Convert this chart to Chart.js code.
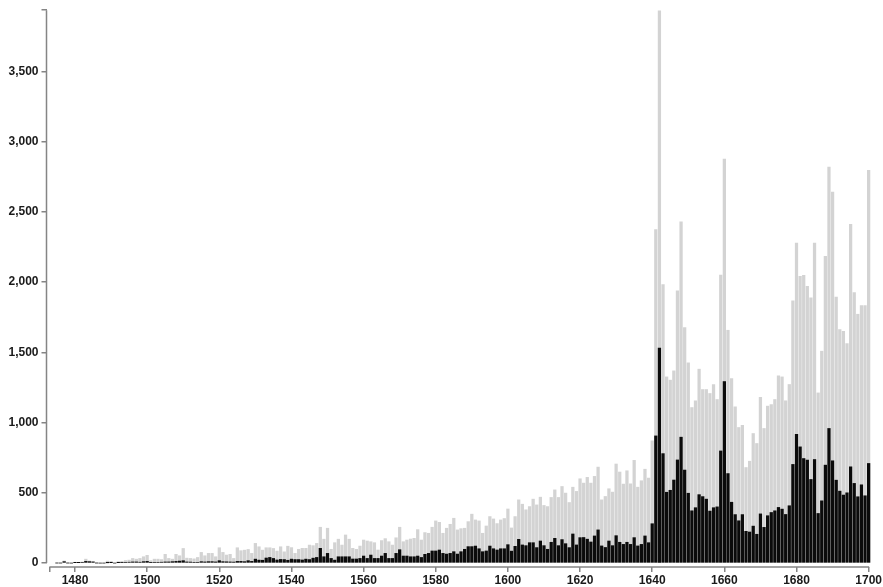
<!DOCTYPE html>
<html>
<head>
<meta charset="utf-8">
<script src="https://cdn.jsdelivr.net/npm/chart.js@4.4.0/dist/chart.umd.min.js"></script>
<style>
  html, body { margin: 0; padding: 0; background: #fff; }
  #wrap { width: 883px; height: 587px; }
</style>
</head>
<body>
<div id="wrap"><canvas id="grafico"></canvas></div>
<script>
// primer año con datos
const anioInicial = 1475;

// total de títulos por año (gris)
const totales = [
  3, 5, 15, 3, 0, 6, 5, 8, 28, 15, 12, 3, 0, 0, 14, 12, 0, 10, 12, 18, 21, 33, 28, 33, 45,
  55, 17, 28, 28, 25, 62, 33, 28, 62, 52, 104, 35, 33, 30, 40, 76, 52, 69, 69, 45,
  109, 76, 57, 62, 33, 109, 88, 92, 97, 69, 140, 116, 92, 109, 109, 104, 85, 116, 80, 120,
  110, 69, 98, 105, 105, 128, 124, 140, 255, 170, 248, 98, 145, 170, 128, 200, 170, 105, 98, 121,
  164, 157, 152, 145, 93, 160, 174, 152, 128, 180, 255, 152, 164, 171, 176, 238, 164, 217, 212, 255,
  300, 290, 212, 248, 276, 319, 236, 245, 248, 295, 348, 307, 300, 212, 264, 331, 314, 281, 307, 317,
  385, 250, 331, 450, 419, 379, 402, 455, 414, 469, 410, 402, 467, 521, 467, 545, 498, 431, 540, 510,
  600, 569, 610, 569, 617, 683, 450, 474, 529, 505, 705, 648, 562, 657, 564, 731, 540, 586, 668, 605,
  870, 2373, 3930, 1982, 1325, 1302, 1368, 1937, 2428, 1676, 1425, 1107, 1155, 1380, 1235, 1235, 1207, 1271, 1164, 2050,
  2875, 1657, 1313, 1112, 965, 981, 680, 725, 922, 851, 1180, 958, 1117, 1128, 1164, 1332, 1325, 1155, 1271, 1866,
  2278, 2041, 2048, 1970, 1887, 2278, 1211, 1508, 2183, 2819, 2641, 1894, 1662, 1650, 1562, 2411, 1925, 1771, 1833, 1833,
  2795
];

// subconjunto por año (negro)
const subconjunto = [
  0, 0, 10, 0, 0, 3, 3, 5, 12, 10, 8, 0, 0, 0, 2, 3, 0, 3, 4, 5, 6, 8, 8, 6, 10,
  12, 4, 5, 5, 6, 8, 8, 10, 12, 14, 17, 8, 7, 5, 5, 10, 8, 10, 10, 8,
  17, 10, 9, 8, 7, 12, 12, 10, 17, 12, 28, 21, 20, 36, 40, 33, 22, 26, 25, 20,
  28, 25, 25, 22, 28, 25, 35, 40, 105, 45, 69, 33, 21, 45, 45, 45, 45, 29, 29, 33,
  50, 33, 57, 33, 33, 50, 69, 33, 33, 69, 95, 50, 50, 45, 45, 50, 40, 62, 69, 86,
  86, 93, 69, 64, 69, 81, 64, 81, 98, 117, 117, 121, 102, 81, 86, 121, 102, 93, 102, 102,
  131, 85, 119, 169, 129, 124, 145, 145, 110, 157, 124, 98, 148, 176, 124, 167, 138, 110, 207, 129,
  181, 182, 170, 150, 193, 236, 122, 111, 157, 124, 195, 148, 133, 148, 133, 181, 122, 133, 193, 145,
  280, 905, 1530, 779, 504, 518, 591, 734, 896, 662, 497, 372, 394, 487, 473, 455, 370, 394, 400, 798,
  1292, 637, 433, 345, 301, 345, 226, 221, 263, 205, 350, 254, 337, 360, 372, 396, 384, 346, 408, 702,
  917, 827, 744, 733, 595, 737, 353, 443, 697, 958, 728, 590, 512, 484, 500, 685, 567, 472, 557, 479,
  709
];

// marcas de los ejes
const ticksX = [1480, 1500, 1520, 1540, 1560, 1580, 1600, 1620, 1640, 1660, 1680, 1700];
const ticksY = [0, 500, 1000, 1500, 2000, 2500, 3000, 3500];

const xMin = 1472.1, xInicioEje = 1472.9, xMax = 1700;
const yMin = -28, yMax = 3935;
const colorEje = '#858585';

const serieTotal = totales.map((v, i) => ({ x: anioInicial + i, y: v }));
const serieSub = subconjunto.map((v, i) => ({ x: anioInicial + i, y: v }));

// ejes al estilo Stata: separados en la esquina
const ejesPlugin = {
  id: 'ejes',
  afterDraw(chart) {
    const { ctx, chartArea, scales } = chart;
    ctx.save();
    ctx.strokeStyle = colorEje;
    ctx.lineWidth = 1.5;
    ctx.beginPath();
    ctx.moveTo(chartArea.left, scales.y.getPixelForValue(0));
    ctx.lineTo(chartArea.left, scales.y.getPixelForValue(yMax));
    ctx.moveTo(scales.x.getPixelForValue(xInicioEje), chartArea.bottom);
    ctx.lineTo(scales.x.getPixelForValue(xMax) + 0.5, chartArea.bottom);
    ctx.stroke();
    ctx.restore();
  }
};

const fuente = { family: 'Liberation Sans, Arial, sans-serif', size: 12, weight: 'bold' };

new Chart(document.getElementById('grafico'), {
  type: 'bar',
  data: {
    datasets: [
      {
        label: 'Subconjunto',
        data: serieSub,
        backgroundColor: '#0b0b0b',
        grouped: false,
        barThickness: 2.6,
        order: 1,
        clip: false
      },
      {
        label: 'Total',
        data: serieTotal,
        backgroundColor: '#d3d3d3',
        grouped: false,
        barThickness: 2.6,
        order: 2,
        clip: false
      }
    ]
  },
  options: {
    responsive: true,
    maintainAspectRatio: false,
    animation: false,
    layout: { padding: { left: 0, top: 10, right: 14, bottom: 0 } },
    plugins: { legend: { display: false }, tooltip: { enabled: false } },
    scales: {
      x: {
        type: 'linear',
        offset: false,
        min: xMin,
        max: xMax,
        afterBuildTicks: (s) => { s.ticks = [xInicioEje].concat(ticksX).map(v => ({ value: v })); },
        afterFit: (s) => { s.height = 20; },
        border: { display: false },
        grid: { offset: false, drawOnChartArea: false, drawTicks: true, tickLength: 5, color: colorEje, lineWidth: 1.5 },
        ticks: {
          autoSkip: false,
          maxRotation: 0,
          padding: 1,
          color: '#1a1a1a',
          font: fuente,
          callback: (v) => (v === xInicioEje ? '' : String(v))
        }
      },
      y: {
        min: yMin,
        max: yMax,
        afterBuildTicks: (s) => { s.ticks = ticksY.concat([yMax]).map(v => ({ value: v })); },
        afterFit: (s) => { s.width = 46.5; },
        border: { display: false },
        grid: { drawOnChartArea: false, drawTicks: true, tickLength: 5, color: colorEje, lineWidth: 1.5 },
        ticks: {
          padding: 3,
          color: '#1a1a1a',
          font: fuente,
          callback: (v) => (v === yMax ? '' : v.toLocaleString('en-US'))
        }
      }
    }
  },
  plugins: [ejesPlugin]
});
</script>
</body>
</html>
